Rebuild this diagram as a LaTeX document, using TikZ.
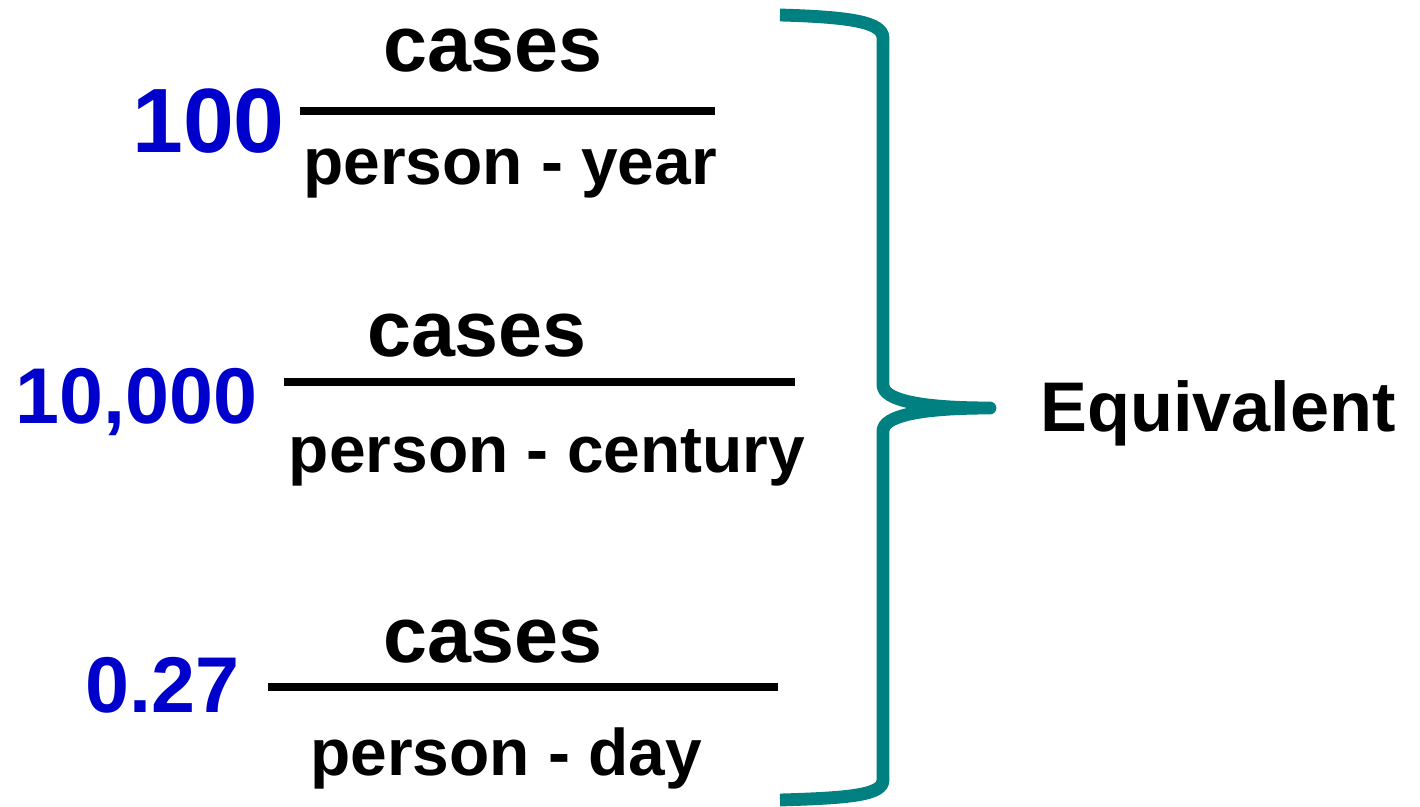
\documentclass[tikz,border=0pt]{standalone}
\usepackage{fontspec}
\setmainfont{Liberation Sans}
\usepackage{tikz}
\usetikzlibrary{positioning, calc}
\definecolor{RateBlue}{RGB}{0, 0, 204}
\definecolor{BraceTeal}{RGB}{0, 128, 128}

\tikzset{
    numer/.style={anchor=base, inner sep=0pt, font=\fontsize{45}{45}\selectfont\bfseries},
    denom/.style={anchor=base, inner sep=0pt, font=\fontsize{37.5}{37.5}\selectfont\bfseries},
    rate/.style={anchor=base east, inner sep=0pt, text=RateBlue, font=\fontsize{45}{45}\selectfont\bfseries},
    bar/.style={line width=5pt},
}

\begin{document}
\begin{tikzpicture}[x=0.02cm, y=-0.02cm]
    \useasboundingbox (0,0) rectangle (1420,807);

    % per person-year
    \node[rate, font=\fontsize{52}{52}\selectfont\bfseries] (r1) at (285,153) {100};
    \node[numer] (n1) at (493,72) {cases};
    \node[denom] (d1) at (510,185) {person - year};
    \coordinate (b1l) at (300,111);
    \coordinate (b1r) at (715,111);
    \draw[bar] (b1l) -- (b1r);

    % per person-century
    \node[rate] (r2) at (258,423) {10,000};
    \node[numer] (n2) at (477,357) {cases};
    \node[denom] (d2) at (547,472) {person - century};
    \coordinate (b2l) at (284,382);
    \coordinate (b2r) at (795,382);
    \draw[bar] (b2l) -- (b2r);

    % per person-day
    \node[rate] (r3) at (240,712) {0.27};
    \node[numer] (n3) at (493,662) {cases};
    \node[denom] (d3) at (506,775) {person - day};
    \coordinate (b3l) at (268,687);
    \coordinate (b3r) at (778,687);
    \draw[bar] (b3l) -- (b3r);

    % brace
    \draw[BraceTeal, line width=7.3pt, line join=round]
        (780,15) .. controls (850,17) and (883,22) .. (883,38) -- (883,385)
        .. controls (883,400) and (920,408) .. (990,408)
        .. controls (920,408) and (883,416) .. (883,431) -- (883,780)
        .. controls (883,795) and (850,798) .. (780,800);
    \node[anchor=base west, inner sep=0pt, font=\fontsize{40}{40}\selectfont\bfseries] (eq) at (1040,432) {Equivalent};
\end{tikzpicture}
\end{document}
